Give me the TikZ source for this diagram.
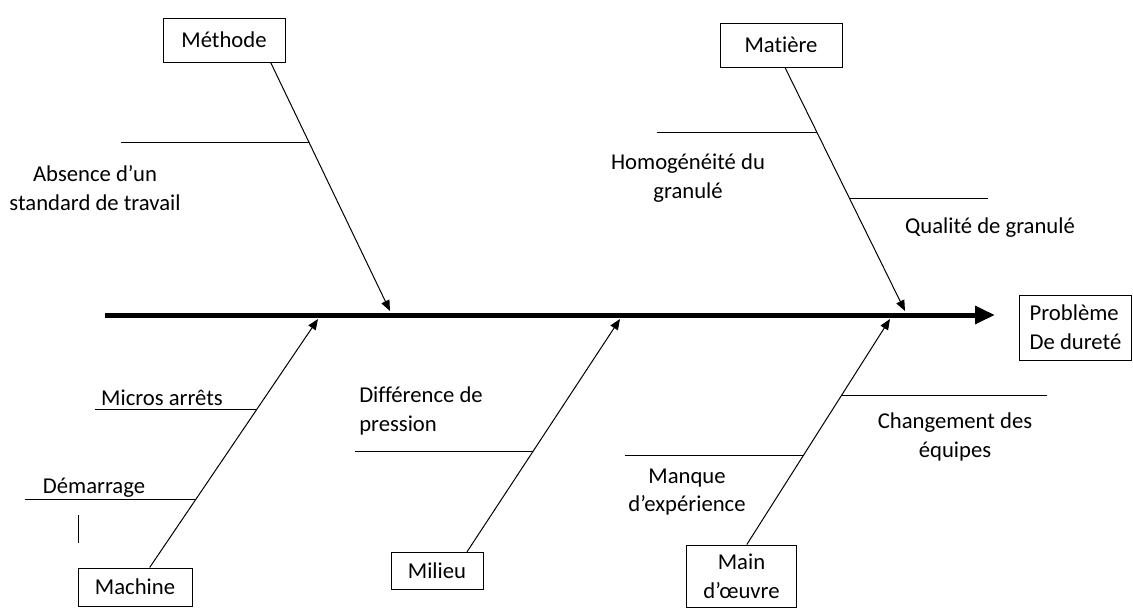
\documentclass[tikz,border=0pt]{standalone}
\usepackage{fontspec}
\setmainfont{Carlito}[Ligatures=NoCommon]
\usetikzlibrary{arrows.meta, calc}

\begin{document}
\begin{tikzpicture}[
  x=0.75pt, y=-0.75pt,
  cause/.style  = {draw, line width=0.75pt, minimum width=91.5pt, minimum height=33pt,
                   align=center, inner sep=2pt, font=\fontsize{17}{21.5}\selectfont},
  effect/.style = {cause, minimum width=84.5pt, minimum height=48.75pt, align=left},
  label/.style  = {align=center, inner sep=0pt, font=\fontsize{17}{21.5}\selectfont},
  spine/.style  = {line width=3.75pt, -{Triangle[length=15pt, width=13pt]}},
  arrow/.style  = {line width=0.75pt, -{Triangle[length=8pt, width=6.5pt]}},
  bone/.style   = {line width=0.75pt}
]
\useasboundingbox (0,0) rectangle (1133,608);

%--------------------------------------------------
% cause boxes and effect
%--------------------------------------------------
\node[cause] (methode) at (224,40) {Méthode};
\node[cause] (matiere) at (781,45) {Matière};
\node[cause, minimum width=85.5pt, minimum height=28.5pt] (machine) at (135,587) {Machine};
\node[cause, minimum width=69pt, minimum height=28pt] (milieu) at (437,571) {Milieu};
\node[cause, minimum width=83pt, minimum height=46.5pt] (main) at (741.5,576) {Main\\d’œuvre};
\node[effect] (probleme) at (1075.5,327.5) {Problème\\De dureté};

%--------------------------------------------------
% spine
%--------------------------------------------------
\coordinate (tail) at (105,315);
\coordinate (head) at (995,315);
\draw[spine] (tail) -- (head);

% where the causes hit the spine
\coordinate (tipMethode) at (390,311);
\coordinate (tipMatiere) at (905,311);
\coordinate (tipMachine) at (318,319);
\coordinate (tipMilieu)  at (620,319);
\coordinate (tipMain)    at (890,319);

% feet of the cause lines on the boxes
\coordinate (methodeFoot) at ([xshift=35pt]methode.south);
\coordinate (matiereFoot) at ([xshift=3pt]matiere.south);
\coordinate (machineFoot) at ([xshift=11pt]machine.north);
\coordinate (milieuFoot)  at ([xshift=22.5pt]milieu.north);
\coordinate (mainFoot)    at ([xshift=4pt]main.north);

\draw[arrow] (methodeFoot) -- (tipMethode);
\draw[arrow] (matiereFoot) -- (tipMatiere);
\draw[arrow] (machineFoot) -- (tipMachine);
\draw[arrow] (milieuFoot) -- (tipMilieu);
\draw[arrow] (mainFoot) -- (tipMain);

%--------------------------------------------------
% sub-causes
%--------------------------------------------------
\draw[bone] ($(methodeFoot)!0.32!(tipMethode)$) -- ++(-188,0);
\draw[bone] ($(matiereFoot)!0.268!(tipMatiere)$) -- ++(-160,0);
\draw[bone] ($(matiereFoot)!0.537!(tipMatiere)$) -- ++(139,0);
\draw[bone] ($(machineFoot)!0.637!(tipMachine)$) -- ++(-162,0);
\draw[bone] ($(machineFoot)!0.274!(tipMachine)$) -- ++(-171,0);
\draw[bone] ($(milieuFoot)!0.429!(tipMilieu)$) -- ++(-178,0);
\draw[bone] ($(mainFoot)!0.662!(tipMain)$) -- ++(205,0);
\draw[bone] ($(mainFoot)!0.396!(tipMain)$) -- ++(-179,0);

% small tick under Démarrage
\coordinate (tickTop) at (78,515);
\coordinate (tickBot) at (78,543);
\draw[bone] (tickTop) -- (tickBot);

\node[label] (absence) at (95,188) {Absence d’un\\standard de travail};
\node[label] (homog) at (688,178) {Homogénéité du\\granulé};
\node[label] (qualite) at (990,228) {Qualité de granulé};
\node[label] (micros) at (162,398) {Micros arrêts};
\node[label] (demarrage) at (94,488) {Démarrage};
\node[label, align=left, anchor=west] (difference) at (359,411) {Différence de\\pression};
\node[label] (changement) at (955,437) {Changement des\\équipes};
\node[label] (manque) at (687,492) {Manque\\d’expérience};

\end{tikzpicture}
\end{document}
